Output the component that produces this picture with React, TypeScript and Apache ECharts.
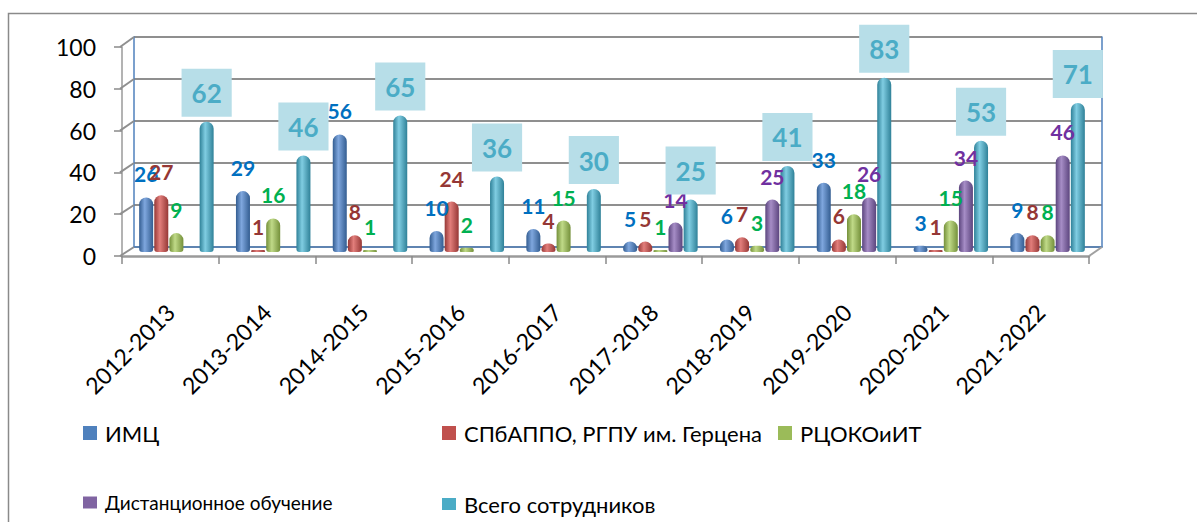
import React, { useEffect, useRef } from "react";
import * as echarts from "echarts";

const categories = [
  "2012-2013", "2013-2014", "2014-2015", "2015-2016", "2016-2017",
  "2017-2018", "2018-2019", "2019-2020", "2020-2021", "2021-2022",
];
const imc = [26, 29, 56, 10, 11, 5, 6, 33, 3, 9];
const spbappo = [27, 1, 8, 24, 4, 5, 7, 6, 1, 8];
const rcoko = [9, 16, 1, 2, 15, 1, 3, 18, 15, 8];
const distant = [null, null, null, null, null, 14, 25, 26, 34, 46];
const total = [62, 46, 65, 36, 30, 25, 41, 83, 53, 71];
const seriesNames = [
  "ИМЦ",
  "СПбАППО, РГПУ им. Герцена",
  "РЦОКОиИТ",
  "Дистанционное обучение",
  "Всего сотрудников",
];
const yMin = 0;
const yMax = 100;
const yInterval = 20;

const FONT = 'Lato, "Noto Sans", sans-serif';
const FRONT = { left: 122, top: 47, width: 967, height: 209 };
const MID = { left: 128, top: 42, width: 968, height: 210 };
const BACK = { left: 134, top: 37, width: 968, height: 210 };

const palette = [
  { base: "#4F81BD", light: "#7fa7de", dark: "#335d91", label: "#0070C0" },
  { base: "#C0504D", light: "#e27e7b", dark: "#963836", label: "#953735" },
  { base: "#9BBB59", light: "#c0da88", dark: "#74903a", label: "#00B050" },
  { base: "#8064A2", light: "#a68dc6", dark: "#5c457e", label: "#7030A0" },
  { base: "#4BACC6", light: "#80cde2", dark: "#2f8198", label: "#4BACC6" },
];

function cyl(i: number) {
  const p = palette[i];
  return new echarts.graphic.LinearGradient(0, 0, 1, 0, [
    { offset: 0, color: p.dark },
    { offset: 0.4, color: p.light },
    { offset: 1, color: p.dark },
  ]);
}

export default function App() {
  const ref = useRef<HTMLDivElement>(null);
  useEffect(() => {
    if (!ref.current) return;
    const chart = echarts.init(ref.current, undefined, { renderer: "svg" });
    const dataSets = [imc, spbappo, rcoko, distant, total];

    const series: any[] = dataSets.map((d, i) => ({
      name: seriesNames[i],
      type: "bar",
      xAxisIndex: 1,
      yAxisIndex: 2,
      data: d,
      barWidth: 14,
      barGap: "8%",
      itemStyle: { color: cyl(i), borderRadius: [7, 7, 3, 3] },
      label:
        i === 4
          ? {
              show: true,
              position: "top",
              distance: 5,
              color: palette[i].label,
              fontFamily: FONT,
              fontWeight: "bold",
              fontSize: 26,
              lineHeight: 31,
              backgroundColor: "#B7DEE8",
              padding: [9, 10, 8, 10],
            }
          : {
              show: true,
              position: "top",
              distance: 13,
              color: palette[i].label,
              fontFamily: FONT,
              fontWeight: "bold",
              fontSize: 21,
            },
      z: 3,
    }));

    const sideLines: any[] = [];
    const n = (yMax - yMin) / yInterval;
    for (let k = 0; k <= n; k++) {
      sideLines.push({
        type: "line",
        shape: {
          x1: FRONT.left - 2,
          y1: FRONT.top + (k * FRONT.height) / n,
          x2: BACK.left,
          y2: BACK.top + (k * BACK.height) / n,
        },
        style: { stroke: "#8f8f8f", lineWidth: 2 },
        z: 1,
      });
    }
    sideLines.push({
      type: "line",
      shape: {
        x1: FRONT.left + FRONT.width,
        y1: FRONT.top + FRONT.height,
        x2: BACK.left + BACK.width,
        y2: BACK.top + BACK.height,
      },
      style: { stroke: "#a0a0a0", lineWidth: 2 },
      z: 1,
    });

    const legendBase = {
      orient: "horizontal",
      padding: 0,
      itemWidth: 14,
      itemHeight: 14,
      icon: "path://M0,0L10,0L10,10L0,10Z",
      symbolKeepAspect: false,
      selectedMode: false,
      textStyle: {
        fontFamily: FONT,
        fontSize: 22,
        color: "#000",
        lineHeight: 14,
        padding: [0, 0, 0, 3],
      },
    };

    chart.setOption({
      animation: false,
      backgroundColor: "#fff",
      graphic: [
        {
          type: "rect",
          shape: { x: 8.5, y: 13.5, width: 1200, height: 520 },
          style: { fill: "none", stroke: "#8a8a8a", lineWidth: 1.5 },
          z: 0,
        },
        ...sideLines,
      ],
      legend: [
        {
          ...legendBase,
          left: 83,
          top: 422,
          data: [{ name: seriesNames[0], itemStyle: { color: palette[0].base } }],
        },
        {
          ...legendBase,
          left: 442,
          top: 422,
          itemGap: 16,
          data: [
            { name: seriesNames[1], itemStyle: { color: palette[1].base } },
            { name: seriesNames[2], itemStyle: { color: palette[2].base } },
          ],
        },
        {
          ...legendBase,
          left: 83,
          top: 493,
          itemHeight: 12,
          textStyle: { ...legendBase.textStyle, fontSize: 19, lineHeight: 12 },
          data: [{ name: seriesNames[3], itemStyle: { color: palette[3].base } }],
        },
        {
          ...legendBase,
          left: 442,
          top: 493,
          itemHeight: 12,
          textStyle: { ...legendBase.textStyle, lineHeight: 12 },
          data: [{ name: seriesNames[4], itemStyle: { color: palette[4].base } }],
        },
      ],
      grid: [
        { ...BACK, containLabel: false },
        { ...MID, containLabel: false },
        { ...FRONT, containLabel: false },
      ],
      xAxis: [
        {
          type: "category",
          gridIndex: 0,
          data: categories,
          axisLine: { show: true, lineStyle: { color: "#4F81BD", width: 1.5 } },
          axisTick: { show: false },
          axisLabel: { show: false },
          splitLine: { show: false },
        },
        {
          type: "category",
          gridIndex: 1,
          data: categories,
          axisLine: { show: false },
          axisTick: { show: false },
          axisLabel: { show: false },
        },
        {
          type: "category",
          gridIndex: 2,
          data: categories,
          axisLine: { show: true, lineStyle: { color: "#9a9a9a", width: 2.5 } },
          axisTick: { show: true, length: 8, lineStyle: { color: "#8a8a8a", width: 1.5 } },
          axisLabel: {
            interval: 0,
            rotate: 45,
            margin: 52,
            fontFamily: FONT,
            fontSize: 23,
            color: "#000",
          },
        },
      ],
      yAxis: [
        {
          type: "value",
          gridIndex: 0,
          min: yMin,
          max: yMax,
          interval: yInterval,
          axisLine: { show: true, lineStyle: { color: "#4F81BD", width: 1.5 } },
          axisTick: { show: false },
          axisLabel: { show: false },
          splitLine: { show: true, lineStyle: { color: "#8f8f8f", width: 2 } },
        },
        {
          type: "value",
          gridIndex: 0,
          position: "right",
          min: yMin,
          max: yMax,
          interval: yInterval,
          axisLine: { show: true, lineStyle: { color: "#4F81BD", width: 1.5 } },
          axisTick: { show: false },
          axisLabel: { show: false },
          splitLine: { show: false },
        },
        {
          type: "value",
          gridIndex: 1,
          min: yMin,
          max: yMax,
          interval: yInterval,
          axisLine: { show: false },
          axisTick: { show: false },
          axisLabel: { show: false },
          splitLine: { show: false },
        },
        {
          type: "value",
          gridIndex: 2,
          min: yMin,
          max: yMax,
          interval: yInterval,
          axisLine: { show: true, lineStyle: { color: "#9a9a9a", width: 1.5 } },
          axisTick: { show: true, length: 8, lineStyle: { color: "#8a8a8a", width: 1.5 } },
          axisLabel: {
            margin: 26,
            fontFamily: FONT,
            fontSize: 23,
            color: "#000",
          },
          splitLine: { show: false },
        },
      ],
      series,
    });
    return () => chart.dispose();
  }, []);
  return (
    <div
      ref={ref}
      style={{ position: "fixed", left: 0, top: 0, width: 1197, height: 522 }}
    />
  );
}
